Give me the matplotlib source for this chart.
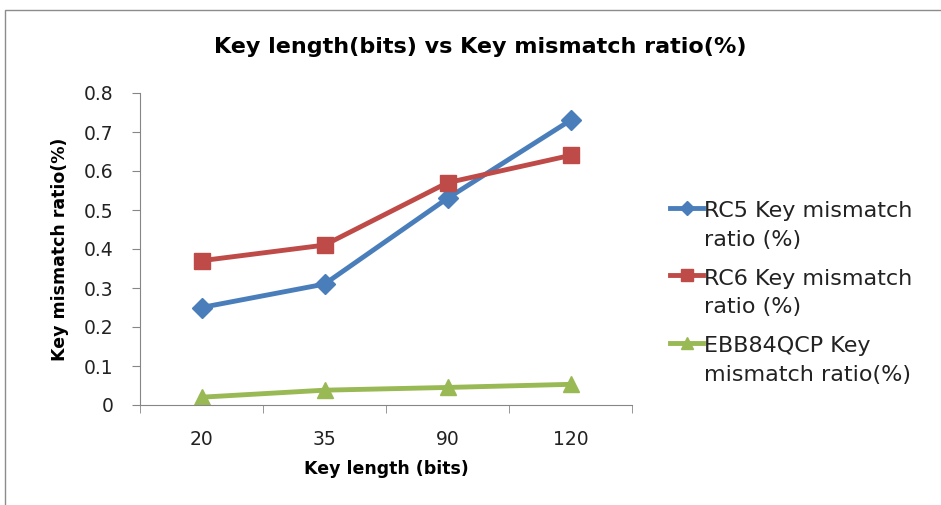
import matplotlib
matplotlib.use("Agg")
import matplotlib.pyplot as plt
from matplotlib.patches import Rectangle
from matplotlib.ticker import FixedLocator, NullFormatter
from matplotlib.legend_handler import HandlerLine2D
from matplotlib.transforms import Affine2D

plt.rcParams['font.family'] = ['DejaVu Sans']

categories = ["20", "35", "90", "120"]
rc5 = [0.25, 0.31, 0.53, 0.73]
rc6 = [0.37, 0.41, 0.57, 0.64]
ebb = [0.02, 0.038, 0.045, 0.053]
labels = ["RC5 Key mismatch\nratio (%)", "RC6 Key mismatch\nratio (%)", "EBB84QCP Key\nmismatch ratio(%)"]
yticks = [0, 0.1, 0.2, 0.3, 0.4, 0.5, 0.6, 0.7, 0.8]


class TopLineHandler(HandlerLine2D):
    """Place the legend handle at the first text line instead of the entry centre."""
    def __init__(self, shift_pts, **kw):
        super().__init__(**kw)
        self.shift_pts = shift_pts

    def create_artists(self, legend, orig_handle, xdescent, ydescent, width, height,
                       fontsize, trans):
        arts = super().create_artists(legend, orig_handle, xdescent, ydescent, width, height,
                                      fontsize, trans)
        t = Affine2D().translate(0, self.shift_pts) + trans
        for a in arts:
            a.set_transform(t)
        return arts


W, H = 941, 505
fig = plt.figure(figsize=(W/100, H/100), dpi=100)
fig.patches.append(Rectangle((5/W, -0.1), 2.0, 1 - 10/H + 0.1, transform=fig.transFigure,
                             fill=False, edgecolor='#8c8c8c', linewidth=1.0))

ax = fig.add_axes([140/W, 1 - 405/H, (632-140)/W, (405-93)/H])
x = list(range(len(categories)))
l1, = ax.plot(x, rc5, color='#4A7EBB', lw=3.5, marker='D', ms=10, label=labels[0])
l2, = ax.plot(x, rc6, color='#BE4B48', lw=3.5, marker='s', ms=11, label=labels[1])
l3, = ax.plot(x, ebb, color='#98B954', lw=3.5, marker='^', ms=12, label=labels[2])

ax.set_xlim(-0.5, len(categories) - 0.5)
ax.set_ylim(0, 0.8)
ax.set_yticks(yticks)
ax.set_yticklabels(["0"] + [f"{v:.1f}" for v in yticks[1:]])
ax.set_xticks(x)
ax.set_xticklabels(categories)
ax.tick_params(axis='x', which='major', length=0, labelsize=13.5, pad=18, labelcolor='#222222')
ax.xaxis.set_minor_locator(FixedLocator([i - 0.5 for i in range(len(categories) + 1)]))
ax.xaxis.set_minor_formatter(NullFormatter())
ax.tick_params(axis='x', which='minor', length=6, color='#868686', direction='out')
ax.tick_params(axis='y', length=6, color='#868686', labelsize=13.5, pad=13, labelcolor='#222222')

for s in ['top', 'right']:
    ax.spines[s].set_visible(False)
for s in ['left', 'bottom']:
    ax.spines[s].set_color('#868686')

ax.set_xlabel("Key length (bits)", fontsize=12.5, fontweight='bold', labelpad=8)
ax.set_ylabel("Key mismatch ratio(%)", fontsize=12.5, fontweight='bold', labelpad=11)
fig.text(480/W, 1 - 47/H, "Key length(bits) vs Key mismatch ratio(%)", ha='center', va='center',
         fontsize=16, fontweight='bold')

hmap = {h: TopLineHandler(13) for h in (l1, l2, l3)}
leg = fig.legend(handles=[l1, l2, l3], loc='upper left', bbox_to_anchor=(650/W, 1 - 181/H),
                 frameon=False, fontsize=16, handlelength=1.5, handletextpad=0.05,
                 labelspacing=0.85, markerscale=0.75, handler_map=hmap)
for t in leg.get_texts():
    t.set_linespacing(1.55)
    t.set_color('#222222')

fig.savefig("out.png", dpi=100)
